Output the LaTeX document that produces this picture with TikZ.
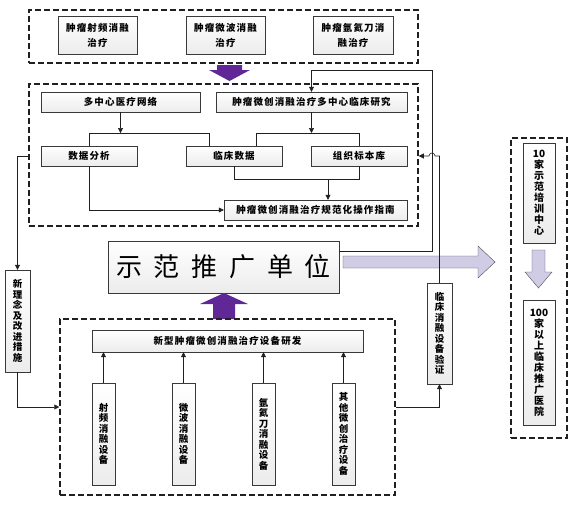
\documentclass[tikz,border=0pt]{standalone}
\usepackage{fontspec}
\usepackage{xcolor}
\usepackage{tikz}
\usetikzlibrary{arrows.meta}
\newfontfamily\cjk{Noto Sans CJK SC}[LetterSpace=12]
\newfontfamily\cjkv{Noto Sans CJK SC}
\newfontfamily\cjkbig{Noto Sans CJK SC}[LetterSpace=45]
\definecolor{darkpurple}{RGB}{95,40,150}
\definecolor{lightpurple}{RGB}{208,204,230}

\begin{document}
\begin{tikzpicture}[x=1pt, y=-1pt,
    group/.style={draw=gray!25!black, line width=1.5pt, dash pattern=on 6pt off 3pt, inner sep=0pt},
    box/.style={rectangle, draw=gray!45!black, top color=white, bottom color=gray!15, inner sep=0pt, align=center, font=\cjk\bfseries\fontsize{9.5}{15}\selectfont},
    vbox/.style={box, font=\cjkv\bfseries\fontsize{9.5}{10.5}\selectfont},
    rbox/.style={box, font=\cjkv\bfseries\fontsize{10}{11}\selectfont},
    link/.style={draw=gray!25!black, line width=0.6pt},
    arrow/.style={link, -{Triangle[length=5pt, width=5pt]}},
    wh/.style 2 args={minimum width=#1pt, minimum height=#2pt}
]
\useasboundingbox (0,0) rectangle (576,504);

% therapies
\node[group, wh={389}{53}] (therapy) at (223.5,36.5) {};
\node[box, wh={79}{38}] (rf) at (97.5,35) {肿瘤射频消融\\治疗};
\node[box, wh={79}{38}] (mw) at (225.5,35) {肿瘤微波消融\\治疗};
\node[box, wh={80}{38}] (cryo) at (353,35) {肿瘤氩氦刀消\\融治疗};

\fill[darkpurple] (217,65) -- (242,65) -- (242,70) -- (250,70) -- (229.5,81) -- (209,70) -- (217,70) -- cycle;

% research
\node[group, wh={389}{142}] (research) at (223.5,155) {};
\node[box, wh={159}{20}] (net) at (120.5,102) {多中心医疗网络};
\node[box, wh={191}{20}] (study) at (311.5,102) {肿瘤微创消融治疗多中心临床研究};
\node[box, wh={96}{20}] (analysis) at (89,156) {数据分析};
\node[box, wh={96}{20}] (clinical) at (234,156) {临床数据};
\node[box, wh={96}{20}] (tissue) at (359,156) {组织标本库};
\node[box, wh={183}{20}] (guide) at (315.5,210) {肿瘤微创消融治疗规范化操作指南};

\coordinate (barA) at (0,133);
\coordinate (barB) at (0,179);
\coordinate (feed) at (0,156);
\coordinate (loop) at (432,70);

\draw[arrow] (net.south) -- (net.south |- barA);
\draw[link] (analysis.north) |- ([xshift=-25pt]clinical.north |- barA) -- ([xshift=-25pt]clinical.north);
\draw[arrow] (study.south) -- (study.south |- barA);
\draw[link] ([xshift=22pt]clinical.north) |- (tissue.north |- barA) -- (tissue.north);
\draw[link] (clinical.south) |- (tissue.south |- barB) -- (tissue.south);
\draw[arrow] ([xshift=12.5pt]guide.north |- barB) -- ([xshift=12.5pt]guide.north);
\draw[arrow] (analysis.south) |- (guide.west);

% demo unit
\node[box, wh={231}{52}, font=\cjkbig\fontsize{26}{30}\selectfont] (demo) at (223.5,267) {示范推广单位};
\fill[darkpurple] (213,319) -- (213,304) -- (200,304) -- (224,293) -- (248,304) -- (235,304) -- (235,319) -- cycle;
\filldraw[fill=lightpurple, draw=gray!60!black] (343,256) -- (478,256) -- (478,246) -- (495,262) -- (478,278) -- (478,268) -- (343,268) -- cycle;

% devices
\node[group, wh={335}{176}] (devices) at (227.5,407) {};
\node[box, wh={271}{22}] (rnd) at (227.5,341) {新型肿瘤微创消融治疗设备研发};
\node[vbox, wh={23}{102}] (d1) at (103.5,434) {射\\频\\消\\融\\设\\备};
\node[vbox, wh={23}{102}] (d2) at (183.5,434) {微\\波\\消\\融\\设\\备};
\node[vbox, wh={23}{102}] (d3) at (263.5,434) {氩\\氦\\刀\\消\\融\\设\\备};
\node[vbox, wh={23}{102}] (d4) at (343.5,434) {其\\他\\微\\创\\治\\疗\\设\\备};
\foreach \d in {d1,d2,d3,d4}
    \draw[arrow] (\d.north) -- (\d.north |- rnd.south);

% side boxes
\node[vbox, wh={25}{102}] (idea) at (17.5,321) {新\\理\\念\\及\\改\\进\\措\\施};
\node[vbox, wh={25}{101}] (verify) at (439.5,333.5) {临\\床\\消\\融\\设\\备\\验\\证};

\draw[arrow] ([yshift=16pt]demo.east) -| (loop) -| (study.north);
\draw[arrow] (verify.north) |- ([xshift=3pt]loop |- feed) arc[start angle=0, end angle=180, radius=3pt] -- (research.east |- feed);
\draw[arrow] (devices.east) -| (verify.south);
\draw[arrow] (research.west |- feed) -| (idea.north);
\draw[arrow] (idea.south) |- (devices.west);

% spread
\node[group, wh={56}{300}] (spread) at (539,288) {};
\node[rbox, wh={32}{100}] (center10) at (539,193) {10\\家\\示\\范\\培\\训\\中\\心};
\node[rbox, wh={32}{125}] (hosp100) at (539,362.5) {100\\家\\以\\上\\临\\床\\推\\广\\医\\院};
\filldraw[fill=lightpurple, draw=gray!60!black] (532,250) -- (545,250) -- (545,272) -- (552,272) -- (538.5,288) -- (525,272) -- (532,272) -- cycle;

\end{tikzpicture}
\end{document}
